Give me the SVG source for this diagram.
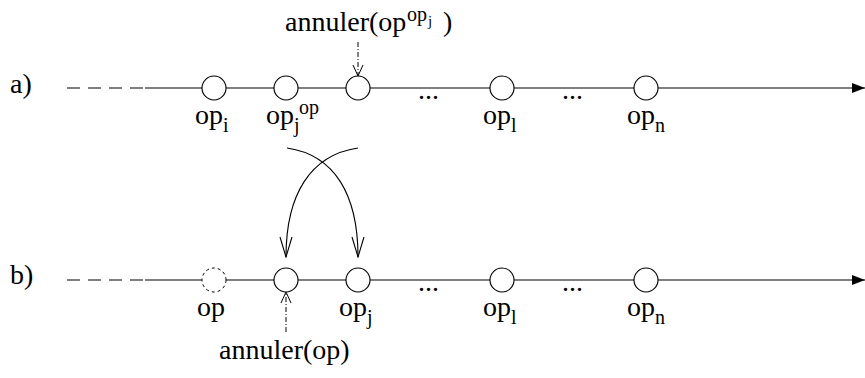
<svg xmlns="http://www.w3.org/2000/svg" width="865" height="378" viewBox="0 0 865 378">
<style>
.ln{stroke:#555;stroke-width:1.4;fill:none}
.dl{stroke:#555;stroke-width:1.4;fill:none;stroke-dasharray:13 8}
.nd{fill:#fff;stroke:#000;stroke-width:1.1}
.gh{fill:#fff;stroke:#000;stroke-width:1;stroke-dasharray:3 3}
.t{font-family:"Liberation Serif",serif;font-size:28px;fill:#000}
.s{font-family:"Liberation Serif",serif;font-size:20px;fill:#000}
.ss{font-family:"Liberation Serif",serif;font-size:15px;fill:#000}
.cv{stroke:#000;stroke-width:1.1;fill:none}
.dd{stroke:#000;stroke-width:1;fill:none;stroke-dasharray:5 2 1 2}
</style>
<defs>
<marker id="fa" markerWidth="14" markerHeight="12" refX="13" refY="6" orient="auto" markerUnits="userSpaceOnUse"><path d="M0,1 L13,6 L0,11 Z" fill="#000"/></marker>
<marker id="va" markerWidth="22" markerHeight="14" refX="21" refY="7" orient="auto" markerUnits="userSpaceOnUse"><path d="M1,1 L21,7 L1,13" fill="none" stroke="#000" stroke-width="1.1"/></marker>
<marker id="sa" markerWidth="13" markerHeight="12" refX="12" refY="6" orient="auto" markerUnits="userSpaceOnUse"><path d="M1,1 L12,6 L1,11" fill="none" stroke="#000" stroke-width="1"/></marker>
</defs>
<text class="t" x="10" y="93">a)</text>
<text class="t" x="10" y="284">b)</text>
<g id="connectors">
<line class="dl" x1="67" y1="88" x2="145" y2="88"/>
<line class="ln" x1="145" y1="88" x2="865" y2="88" marker-end="url(#fa)"/>
<line class="dl" x1="67" y1="280" x2="145" y2="280"/>
<line class="ln" x1="145" y1="280" x2="865" y2="280" marker-end="url(#fa)"/>
<path class="cv" d="M287 148 C335 155 358 195 358 257" marker-end="url(#va)"/>
<path class="cv" d="M358 148 C310 155 286 195 286 257" marker-end="url(#va)"/>
<line class="dd" x1="358" y1="42" x2="358" y2="76" marker-end="url(#sa)"/>
<line class="dd" x1="286" y1="332" x2="286" y2="292" marker-end="url(#sa)"/>
</g>
<g id="a-opi"><circle class="nd" cx="214" cy="88" r="12"/><text class="t" x="195" y="124">op</text><text class="s" x="223" y="132">i</text></g>
<g id="a-opj"><circle class="nd" cx="286" cy="88" r="12"/><text class="t" x="266" y="124">op</text><text class="s" x="294" y="132">j</text><text class="s" x="299" y="114">op</text></g>
<g id="a-new"><circle class="nd" cx="358" cy="88" r="12"/><text class="t" x="285" y="31">annuler(op</text><text class="s" x="407" y="21">op</text><text class="ss" x="428" y="26">j</text><text class="t" x="443" y="31">)</text></g>
<g id="a-opl"><circle class="nd" cx="502" cy="88" r="12"/><text class="t" x="483" y="124">op</text><text class="s" x="511" y="132">l</text></g>
<g id="a-opn"><circle class="nd" cx="646" cy="88" r="12"/><text class="t" x="627" y="124">op</text><text class="s" x="655" y="132">n</text></g>
<text class="t" x="418" y="99">...</text>
<text class="t" x="562" y="99">...</text>
<g id="b-op"><circle class="gh" cx="214" cy="280" r="12"/><text class="t" x="197" y="316">op</text></g>
<g id="b-new"><circle class="nd" cx="286" cy="280" r="12"/><text class="t" x="219" y="359">annuler(op)</text></g>
<g id="b-opj"><circle class="nd" cx="358" cy="280" r="12"/><text class="t" x="339" y="316">op</text><text class="s" x="367" y="324">j</text></g>
<g id="b-opl"><circle class="nd" cx="502" cy="280" r="12"/><text class="t" x="483" y="316">op</text><text class="s" x="511" y="324">l</text></g>
<g id="b-opn"><circle class="nd" cx="646" cy="280" r="12"/><text class="t" x="627" y="316">op</text><text class="s" x="655" y="324">n</text></g>
<text class="t" x="418" y="291">...</text>
<text class="t" x="562" y="291">...</text>
</svg>
